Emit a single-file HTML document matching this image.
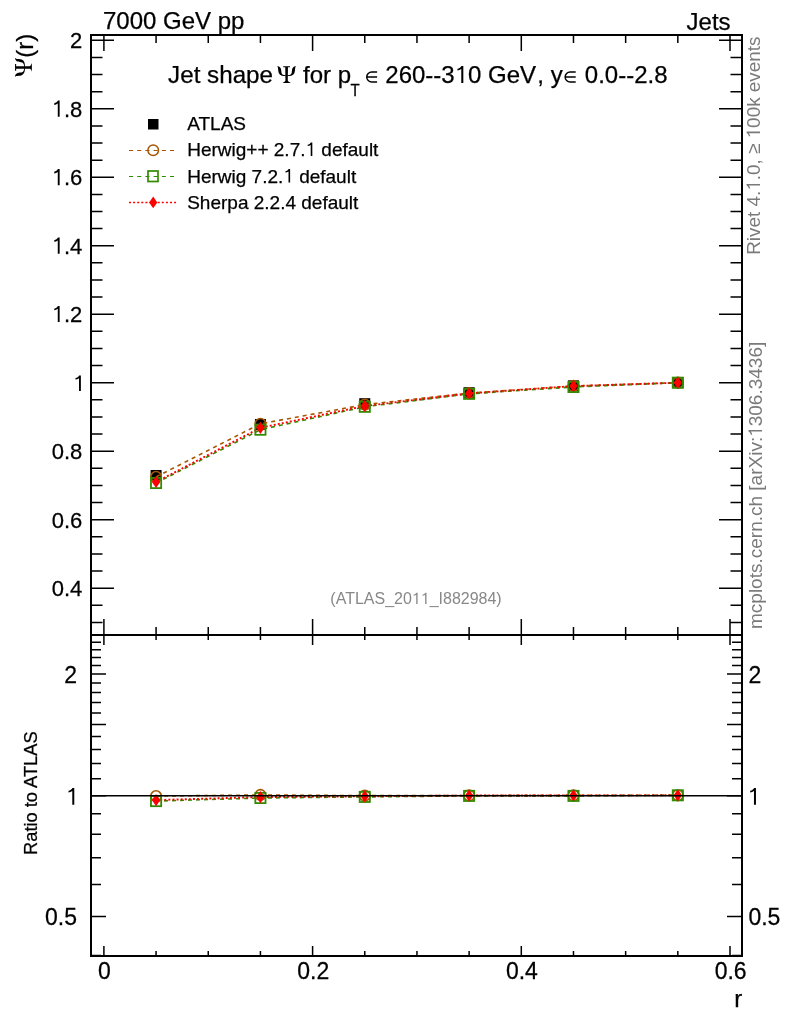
<!DOCTYPE html><html><head><meta charset="utf-8"><style>html,body{margin:0;padding:0;background:#fff;}svg{display:block;will-change:transform;}text{font-family:"Liberation Sans",sans-serif;}.s{font-family:"Liberation Serif",serif;}</style></head><body>
<svg width="786" height="1024" viewBox="0 0 786 1024">
<rect width="786" height="1024" fill="#fff"/>
<path d="M91 622.38h11.5M742 622.38h-11.5M91 605.26h11.5M742 605.26h-11.5M91 588.14h23M742 588.14h-23M91 571.02h11.5M742 571.02h-11.5M91 553.90h11.5M742 553.90h-11.5M91 536.78h11.5M742 536.78h-11.5M91 519.66h23M742 519.66h-23M91 502.54h11.5M742 502.54h-11.5M91 485.42h11.5M742 485.42h-11.5M91 468.30h11.5M742 468.30h-11.5M91 451.18h23M742 451.18h-23M91 434.06h11.5M742 434.06h-11.5M91 416.94h11.5M742 416.94h-11.5M91 399.82h11.5M742 399.82h-11.5M91 382.70h23M742 382.70h-23M91 365.58h11.5M742 365.58h-11.5M91 348.46h11.5M742 348.46h-11.5M91 331.34h11.5M742 331.34h-11.5M91 314.22h23M742 314.22h-23M91 297.10h11.5M742 297.10h-11.5M91 279.98h11.5M742 279.98h-11.5M91 262.86h11.5M742 262.86h-11.5M91 245.74h23M742 245.74h-23M91 228.62h11.5M742 228.62h-11.5M91 211.50h11.5M742 211.50h-11.5M91 194.38h11.5M742 194.38h-11.5M91 177.26h23M742 177.26h-23M91 160.14h11.5M742 160.14h-11.5M91 143.02h11.5M742 143.02h-11.5M91 125.90h11.5M742 125.90h-11.5M91 108.78h23M742 108.78h-23M91 91.66h11.5M742 91.66h-11.5M91 74.54h11.5M742 74.54h-11.5M91 57.42h11.5M742 57.42h-11.5M91 40.30h23M742 40.30h-23M103.90 35v16M103.90 635v-16M103.90 635v10M103.90 956v-10M156.08 35v8M156.08 635v-8M156.08 635v5M156.08 956v-5M208.25 35v8M208.25 635v-8M208.25 635v5M208.25 956v-5M260.43 35v8M260.43 635v-8M260.43 635v5M260.43 956v-5M312.60 35v16M312.60 635v-16M312.60 635v10M312.60 956v-10M364.77 35v8M364.77 635v-8M364.77 635v5M364.77 956v-5M416.95 35v8M416.95 635v-8M416.95 635v5M416.95 956v-5M469.12 35v8M469.12 635v-8M469.12 635v5M469.12 956v-5M521.30 35v16M521.30 635v-16M521.30 635v10M521.30 956v-10M573.48 35v8M573.48 635v-8M573.48 635v5M573.48 956v-5M625.65 35v8M625.65 635v-8M625.65 635v5M625.65 956v-5M677.83 35v8M677.83 635v-8M677.83 635v5M677.83 956v-5M730.00 35v16M730.00 635v-16M730.00 635v10M730.00 956v-10M91 955.51h10M742 955.51h-10M91 916.49h15M742 916.49h-15M91 884.62h10M742 884.62h-10M91 857.66h10M742 857.66h-10M91 834.32h10M742 834.32h-10M91 813.72h10M742 813.72h-10M91 795.70h15M742 795.70h-15M91 778.64h10M742 778.64h-10M91 763.42h10M742 763.42h-10M91 749.43h10M742 749.43h-10M91 736.47h10M742 736.47h-10M91 724.41h15M742 724.41h-15M91 713.12h10M742 713.12h-10M91 702.52h10M742 702.52h-10M91 692.53h10M742 692.53h-10M91 683.07h10M742 683.07h-10M91 674.11h15M742 674.11h-15M91 665.57h10M742 665.57h-10M91 657.44h10M742 657.44h-10M91 649.67h10M742 649.67h-10M91 642.23h10M742 642.23h-10M91 635.09h10M742 635.09h-10" stroke="#000" stroke-width="1.5" fill="none"/>
<path d="M91 35H742V956H91ZM91 635H742" stroke="#000" stroke-width="2" fill="none"/>
<g transform="translate(82.30 596.04) scale(1 1.03)"><text font-size="22" text-anchor="end" stroke="#000" stroke-width="0.25">0.4</text></g>
<g transform="translate(82.30 527.56) scale(1 1.03)"><text font-size="22" text-anchor="end" stroke="#000" stroke-width="0.25">0.6</text></g>
<g transform="translate(82.30 459.08) scale(1 1.03)"><text font-size="22" text-anchor="end" stroke="#000" stroke-width="0.25">0.8</text></g>
<g transform="translate(85.20 391.00) scale(1 1.0)"><text font-size="22" text-anchor="end" stroke="#000" stroke-width="0.25" id="t0"> </text><path transform="translate(-12.25 0) scale(22)" d="M0.36 -0.709V0H0.275V-0.585C0.225 -0.545 0.17 -0.525 0.115 -0.52V-0.59C0.19 -0.605 0.25 -0.645 0.28 -0.709Z" fill="#000"/></g>
<g transform="translate(82.30 322.12) scale(1 1.03)"><text font-size="22" text-anchor="end" stroke="#000" stroke-width="0.25" id="t1"> .2</text><path transform="translate(-30.58 0) scale(22)" d="M0.36 -0.709V0H0.275V-0.585C0.225 -0.545 0.17 -0.525 0.115 -0.52V-0.59C0.19 -0.605 0.25 -0.645 0.28 -0.709Z" fill="#000"/></g>
<g transform="translate(82.30 253.64) scale(1 1.03)"><text font-size="22" text-anchor="end" stroke="#000" stroke-width="0.25" id="t2"> .4</text><path transform="translate(-30.58 0) scale(22)" d="M0.36 -0.709V0H0.275V-0.585C0.225 -0.545 0.17 -0.525 0.115 -0.52V-0.59C0.19 -0.605 0.25 -0.645 0.28 -0.709Z" fill="#000"/></g>
<g transform="translate(82.30 185.16) scale(1 1.03)"><text font-size="22" text-anchor="end" stroke="#000" stroke-width="0.25" id="t3"> .6</text><path transform="translate(-30.58 0) scale(22)" d="M0.36 -0.709V0H0.275V-0.585C0.225 -0.545 0.17 -0.525 0.115 -0.52V-0.59C0.19 -0.605 0.25 -0.645 0.28 -0.709Z" fill="#000"/></g>
<g transform="translate(82.30 116.68) scale(1 1.03)"><text font-size="22" text-anchor="end" stroke="#000" stroke-width="0.25" id="t4"> .8</text><path transform="translate(-30.58 0) scale(22)" d="M0.36 -0.709V0H0.275V-0.585C0.225 -0.545 0.17 -0.525 0.115 -0.52V-0.59C0.19 -0.605 0.25 -0.645 0.28 -0.709Z" fill="#000"/></g>
<g transform="translate(82.30 48.20) scale(1 1.03)"><text font-size="22" text-anchor="end" stroke="#000" stroke-width="0.25">2</text></g>
<g transform="translate(78.90 804.70) scale(1 1.0)"><text font-size="23.5" text-anchor="end" stroke="#000" stroke-width="0.25" id="t5"> </text><path transform="translate(-13.08 0) scale(23.5)" d="M0.36 -0.709V0H0.275V-0.585C0.225 -0.545 0.17 -0.525 0.115 -0.52V-0.59C0.19 -0.605 0.25 -0.645 0.28 -0.709Z" fill="#000"/></g>
<g transform="translate(747.50 804.70) scale(1 1.0)"><text font-size="23.5" stroke="#000" stroke-width="0.25" id="t6"> </text><path transform="translate(0.00 0) scale(23.5)" d="M0.36 -0.709V0H0.275V-0.585C0.225 -0.545 0.17 -0.525 0.115 -0.52V-0.59C0.19 -0.605 0.25 -0.645 0.28 -0.709Z" fill="#000"/></g>
<g transform="translate(77.00 925.09) scale(1 1.04)"><text font-size="23.0" text-anchor="end" stroke="#000" stroke-width="0.25">0.5</text></g>
<g transform="translate(748.40 925.09) scale(1 1.04)"><text font-size="23.0" stroke="#000" stroke-width="0.25">0.5</text></g>
<g transform="translate(77.00 682.71) scale(1 1.04)"><text font-size="23.0" text-anchor="end" stroke="#000" stroke-width="0.25">2</text></g>
<g transform="translate(748.40 682.71) scale(1 1.04)"><text font-size="23.0" stroke="#000" stroke-width="0.25">2</text></g>
<g transform="translate(104.50 978.60) scale(1 1.04)"><text font-size="23.0" text-anchor="middle" stroke="#000" stroke-width="0.25">0</text></g>
<g transform="translate(313.20 978.60) scale(1 1.04)"><text font-size="23.0" text-anchor="middle" stroke="#000" stroke-width="0.25">0.2</text></g>
<g transform="translate(521.90 978.60) scale(1 1.04)"><text font-size="23.0" text-anchor="middle" stroke="#000" stroke-width="0.25">0.4</text></g>
<g transform="translate(730.60 978.60) scale(1 1.04)"><text font-size="23.0" text-anchor="middle" stroke="#000" stroke-width="0.25">0.6</text></g>
<g transform="translate(742.20 1006.50) scale(1 1.0)"><text font-size="24" text-anchor="end" stroke="#000" stroke-width="0.25">r</text></g>
<g transform="translate(103.00 28.80) scale(1 1.0)"><text font-size="24" stroke="#000" stroke-width="0.25">7000 GeV pp</text></g>
<g transform="translate(730.60 29.50) scale(1 1.0)"><text font-size="24" text-anchor="end" stroke="#000" stroke-width="0.25">Jets</text></g>
<path transform="translate(11.85 79.0) rotate(-90)" d="M2.0 3.05C3.4 3.3 4.5 3.6 5.2 4.6C6.2 6.0 6.3 7.6 6.4 9.2C6.6 11.0 7.8 12.1 10.4 12.3L10.4 13.1C7.5 13.1 4.7 12.4 3.8 9.9C3.1 8.0 3.2 5.6 2.9 4.4C2.7 3.7 2.4 3.3 2.0 3.05ZM21.2 3.05C19.8 3.3 18.7 3.6 18.0 4.6C17.0 6.0 16.9 7.6 16.8 9.2C16.6 11.0 15.4 12.1 12.8 12.3L12.8 13.1C15.7 13.1 18.5 12.4 19.4 9.9C20.1 8.0 20.0 5.6 20.3 4.4C20.5 3.7 20.8 3.3 21.2 3.05ZM10.25 4.2H12.95L12.75 18.6H10.45ZM8.2 3.2H15.0V4.3H8.2ZM7.6 19.9C9 19.3 10.2 18.7 10.4 17.6H12.8C13 18.7 14.2 19.3 15.8 19.9V20.0H7.6Z" fill="#000"/>
<g transform="translate(32.80 57.80) rotate(-90) scale(1 1.0)"><text font-size="24" stroke="#000" stroke-width="0.25">(r)</text></g>
<g transform="translate(36.90 855.00) rotate(-90) scale(1 1.03)"><text font-size="18.3" stroke="#000" stroke-width="0.25">Ratio to ATLAS</text></g>
<g transform="translate(168.10 83.00) scale(1 1.0)"><text font-size="24.2" stroke="#000" stroke-width="0.25">Jet shape</text></g>
<path transform="translate(275 63)" d="M2.0 3.05C3.4 3.3 4.5 3.6 5.2 4.6C6.2 6.0 6.3 7.6 6.4 9.2C6.6 11.0 7.8 12.1 10.4 12.3L10.4 13.1C7.5 13.1 4.7 12.4 3.8 9.9C3.1 8.0 3.2 5.6 2.9 4.4C2.7 3.7 2.4 3.3 2.0 3.05ZM21.2 3.05C19.8 3.3 18.7 3.6 18.0 4.6C17.0 6.0 16.9 7.6 16.8 9.2C16.6 11.0 15.4 12.1 12.8 12.3L12.8 13.1C15.7 13.1 18.5 12.4 19.4 9.9C20.1 8.0 20.0 5.6 20.3 4.4C20.5 3.7 20.8 3.3 21.2 3.05ZM10.25 4.2H12.95L12.75 18.6H10.45ZM8.2 3.2H15.0V4.3H8.2ZM7.6 19.9C9 19.3 10.2 18.7 10.4 17.6H12.8C13 18.7 14.2 19.3 15.8 19.9V20.0H7.6Z" fill="#000"/>
<g transform="translate(303.00 83.00) scale(1 1.0)"><text font-size="24" stroke="#000" stroke-width="0.25">for p</text></g>
<g transform="translate(350.40 95.70) scale(1 1.1)"><text font-size="15.0" stroke="#000" stroke-width="0.25">T</text></g>
<g transform="translate(385.30 83.00) scale(1 1.0)"><text font-size="24" stroke="#000" stroke-width="0.25" id="t7">260--3 0 GeV</text><path transform="translate(69.38 0) scale(24)" d="M0.36 -0.709V0H0.275V-0.585C0.225 -0.545 0.17 -0.525 0.115 -0.52V-0.59C0.19 -0.605 0.25 -0.645 0.28 -0.709Z" fill="#000"/></g>
<g transform="translate(537.30 83.00) scale(1 1.0)"><text font-size="24" stroke="#000" stroke-width="0.25">, y</text></g>
<g transform="translate(584.80 83.00) scale(1 1.0)"><text font-size="24" stroke="#000" stroke-width="0.25">0.0--2.8</text></g>
<path d="M377.10 72.02H371.75A5.03 5.03 0 0 0 371.75 82.08H377.10M366.73 77.05H377.10" stroke="#000" stroke-width="1.45" fill="none"/>
<path d="M575.70 72.02H570.15A5.03 5.03 0 0 0 570.15 82.08H575.70M565.12 77.05H575.70" stroke="#000" stroke-width="1.45" fill="none"/>
<g transform="translate(416.00 604.00) scale(1 1.0)"><text font-size="16" text-anchor="middle" fill="#888" id="t8">(ATLAS_20  _I882984)</text><path transform="translate(-4.18 0) scale(16)" d="M0.36 -0.709V0H0.275V-0.585C0.225 -0.545 0.17 -0.525 0.115 -0.52V-0.59C0.19 -0.605 0.25 -0.645 0.28 -0.709Z" fill="#888"/><path transform="translate(4.73 0) scale(16)" d="M0.36 -0.709V0H0.275V-0.585C0.225 -0.545 0.17 -0.525 0.115 -0.52V-0.59C0.19 -0.605 0.25 -0.645 0.28 -0.709Z" fill="#888"/></g>
<g transform="translate(760.00 254.80) rotate(-90) scale(1 1.0)"><text font-size="18.9" fill="#7a7a7a" id="t9">Rivet 4. .0, ≥  00k events</text><path transform="translate(64.03 0) scale(18.9)" d="M0.36 -0.709V0H0.275V-0.585C0.225 -0.545 0.17 -0.525 0.115 -0.52V-0.59C0.19 -0.605 0.25 -0.645 0.28 -0.709Z" fill="#7a7a7a"/><path transform="translate(116.41 0) scale(18.9)" d="M0.36 -0.709V0H0.275V-0.585C0.225 -0.545 0.17 -0.525 0.115 -0.52V-0.59C0.19 -0.605 0.25 -0.645 0.28 -0.709Z" fill="#7a7a7a"/></g>
<g transform="translate(762.00 629.00) rotate(-90) scale(1 1.0)"><text font-size="19" fill="#7a7a7a" id="t10">mcplots.cern.ch [arXiv: 306.3436]</text><path transform="translate(192.16 0) scale(19)" d="M0.36 -0.709V0H0.275V-0.585C0.225 -0.545 0.17 -0.525 0.115 -0.52V-0.59C0.19 -0.605 0.25 -0.645 0.28 -0.709Z" fill="#7a7a7a"/></g>
<rect x="148" y="119" width="10.5" height="10.5" fill="#000"/>
<g transform="translate(187.20 129.80) scale(1 1.0)"><text font-size="19" stroke="#000" stroke-width="0.25">ATLAS</text></g>
<path d="M129 150.5H175" stroke="#a65600" stroke-width="1.1" stroke-dasharray="4.1 4.1"/>
<circle cx="153.2" cy="150.3" r="5.3" stroke="#a65600" stroke-width="1.5" fill="none"/>
<g transform="translate(187.20 156.00) scale(1 1.0)"><text font-size="19" stroke="#000" stroke-width="0.25" id="t11">Herwig++ 2.7.  default</text><path transform="translate(118.28 0) scale(19)" d="M0.36 -0.709V0H0.275V-0.585C0.225 -0.545 0.17 -0.525 0.115 -0.52V-0.59C0.19 -0.605 0.25 -0.645 0.28 -0.709Z" fill="#000"/></g>
<path d="M129 176.5H175" stroke="#338a00" stroke-width="1.1" stroke-dasharray="4.1 4.1"/>
<rect x="148" y="171" width="10" height="10.5" stroke="#338a00" stroke-width="1.7" fill="none"/>
<g transform="translate(187.20 182.50) scale(1 1.0)"><text font-size="19" stroke="#000" stroke-width="0.25" id="t12">Herwig 7.2.  default</text><path transform="translate(96.09 0) scale(19)" d="M0.36 -0.709V0H0.275V-0.585C0.225 -0.545 0.17 -0.525 0.115 -0.52V-0.59C0.19 -0.605 0.25 -0.645 0.28 -0.709Z" fill="#000"/></g>
<path d="M129 202.5H176" stroke="#ff0000" stroke-width="1.5" stroke-dasharray="2 2.1"/>
<path d="M153.2 196.6L157.3 202.4L153.2 208.2L149.1 202.4Z" fill="#ff0000"/>
<g transform="translate(187.20 208.80) scale(1 1.0)"><text font-size="19" stroke="#000" stroke-width="0.25">Sherpa 2.2.4 default</text></g>
<rect x="150.58" y="469.99" width="11" height="11" fill="#000"/><rect x="254.93" y="418.97" width="11" height="11" fill="#000"/><rect x="359.27" y="398.19" width="11" height="11" fill="#000"/><rect x="463.62" y="387.20" width="11" height="11" fill="#000"/><rect x="567.98" y="380.35" width="11" height="11" fill="#000"/><rect x="672.33" y="377.20" width="11" height="11" fill="#000"/>
<polyline points="156.08,476.86 260.43,423.79 364.77,404.61 469.12,393.04 573.48,385.95 677.83,382.70" stroke="#a65600" stroke-width="1.6" stroke-dasharray="4 4" fill="none"/>
<polyline points="156.08,483.02 260.43,429.71 364.77,406.80 469.12,393.83 573.48,386.98 677.83,382.70" stroke="#338a00" stroke-width="1.6" stroke-dasharray="4 4" fill="none"/>
<polyline points="156.08,482.00 260.43,427.79 364.77,405.98 469.12,393.38 573.48,386.12 677.83,382.70" stroke="#ff0000" stroke-width="1.9" stroke-dasharray="2 2.1" fill="none"/>
<circle cx="156.08" cy="476.86" r="5.3" stroke="#a65600" stroke-width="1.6" fill="none"/><circle cx="260.43" cy="423.79" r="5.3" stroke="#a65600" stroke-width="1.6" fill="none"/><circle cx="364.77" cy="404.61" r="5.3" stroke="#a65600" stroke-width="1.6" fill="none"/><circle cx="469.12" cy="393.04" r="5.3" stroke="#a65600" stroke-width="1.6" fill="none"/><circle cx="573.48" cy="385.95" r="5.3" stroke="#a65600" stroke-width="1.6" fill="none"/><circle cx="677.83" cy="382.70" r="5.3" stroke="#a65600" stroke-width="1.6" fill="none"/>
<rect x="150.98" y="477.92" width="10.2" height="10.2" stroke="#338a00" stroke-width="1.8" fill="none"/><rect x="255.33" y="424.61" width="10.2" height="10.2" stroke="#338a00" stroke-width="1.8" fill="none"/><rect x="359.67" y="401.70" width="10.2" height="10.2" stroke="#338a00" stroke-width="1.8" fill="none"/><rect x="464.02" y="388.73" width="10.2" height="10.2" stroke="#338a00" stroke-width="1.8" fill="none"/><rect x="568.38" y="381.88" width="10.2" height="10.2" stroke="#338a00" stroke-width="1.8" fill="none"/><rect x="672.73" y="377.60" width="10.2" height="10.2" stroke="#338a00" stroke-width="1.8" fill="none"/>
<path d="M156.08 475.90L160.28 482.00L156.08 488.10L151.88 482.00Z" fill="#ff0000"/><path d="M260.43 421.69L264.62 427.79L260.43 433.89L256.23 427.79Z" fill="#ff0000"/><path d="M364.77 399.88L368.97 405.98L364.77 412.08L360.57 405.98Z" fill="#ff0000"/><path d="M469.12 387.28L473.32 393.38L469.12 399.48L464.93 393.38Z" fill="#ff0000"/><path d="M573.48 380.02L577.68 386.12L573.48 392.22L569.27 386.12Z" fill="#ff0000"/><path d="M677.83 376.60L682.03 382.70L677.83 388.80L673.62 382.70Z" fill="#ff0000"/>
<polyline points="156.08,796.11 260.43,794.95 364.77,795.65 469.12,795.47 573.48,795.33 677.83,795.30" stroke="#a65600" stroke-width="1.6" stroke-dasharray="4 4" fill="none"/>
<polyline points="156.08,801.09 260.43,798.00 364.77,796.90 469.12,795.90 573.48,795.90 677.83,795.30" stroke="#338a00" stroke-width="1.6" stroke-dasharray="4 4" fill="none"/>
<polyline points="156.08,800.09 260.43,797.06 364.77,796.30 469.12,795.56 573.48,795.39 677.83,795.30" stroke="#ff0000" stroke-width="1.9" stroke-dasharray="2 2.1" fill="none"/>
<circle cx="156.08" cy="796.11" r="5.3" stroke="#a65600" stroke-width="1.6" fill="none"/><circle cx="260.43" cy="794.95" r="5.3" stroke="#a65600" stroke-width="1.6" fill="none"/><circle cx="364.77" cy="795.65" r="5.3" stroke="#a65600" stroke-width="1.6" fill="none"/><circle cx="469.12" cy="795.47" r="5.3" stroke="#a65600" stroke-width="1.6" fill="none"/><circle cx="573.48" cy="795.33" r="5.3" stroke="#a65600" stroke-width="1.6" fill="none"/><circle cx="677.83" cy="795.30" r="5.3" stroke="#a65600" stroke-width="1.6" fill="none"/>
<rect x="150.98" y="795.99" width="10.2" height="10.2" stroke="#338a00" stroke-width="1.8" fill="none"/><rect x="255.33" y="792.90" width="10.2" height="10.2" stroke="#338a00" stroke-width="1.8" fill="none"/><rect x="359.67" y="791.80" width="10.2" height="10.2" stroke="#338a00" stroke-width="1.8" fill="none"/><rect x="464.02" y="790.80" width="10.2" height="10.2" stroke="#338a00" stroke-width="1.8" fill="none"/><rect x="568.38" y="790.80" width="10.2" height="10.2" stroke="#338a00" stroke-width="1.8" fill="none"/><rect x="672.73" y="790.20" width="10.2" height="10.2" stroke="#338a00" stroke-width="1.8" fill="none"/>
<path d="M156.08 793.99L160.28 800.09L156.08 806.19L151.88 800.09Z" fill="#ff0000"/><path d="M260.43 790.96L264.62 797.06L260.43 803.16L256.23 797.06Z" fill="#ff0000"/><path d="M364.77 790.20L368.97 796.30L364.77 802.40L360.57 796.30Z" fill="#ff0000"/><path d="M469.12 789.46L473.32 795.56L469.12 801.66L464.93 795.56Z" fill="#ff0000"/><path d="M573.48 789.29L577.68 795.39L573.48 801.49L569.27 795.39Z" fill="#ff0000"/><path d="M677.83 789.20L682.03 795.30L677.83 801.40L673.62 795.30Z" fill="#ff0000"/>
<path d="M91 795.7H742" stroke="#000" stroke-width="1.5"/>
</svg></body></html>
